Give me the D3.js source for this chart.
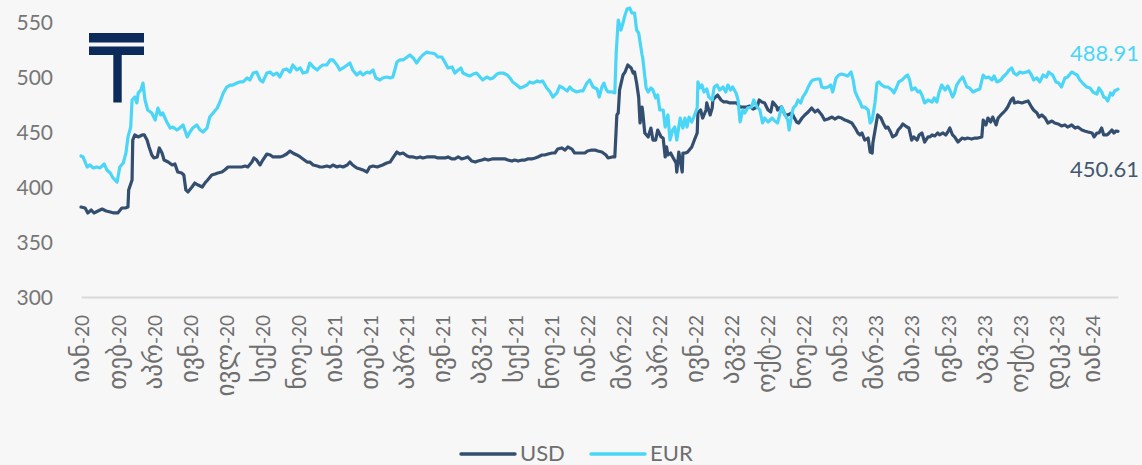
<!DOCTYPE html>
<html><head><meta charset="utf-8">
<script src="https://cdn.jsdelivr.net/npm/d3@7"></script>
<style>
html,body{margin:0;padding:0;background:#f7f7f7;}
svg{display:block;font-family:Lato,"DejaVu Sans",sans-serif;}
</style></head>
<body><svg id="chart" width="1142" height="465"></svg>
<script>
// ---------------- data ----------------
const startDate = "2020-01-01";      // day 0 of the date axis
const lastDay = 1523;                // last observation (days after start)
const tickStepDays = 53;             // date-axis major unit (days)
const tickLabels = ["იან-20","თებ-20","აპრ-20","ივნ-20","ივლ-20","სექ-20","ნოე-20",
  "იან-21","თებ-21","აპრ-21","ივნ-21","აგვ-21","სექ-21","ნოე-21",
  "იან-22","მარ-22","აპრ-22","ივნ-22","აგვ-22","ოქტ-22","ნოე-22",
  "იან-23","მარ-23","მაი-23","ივნ-23","აგვ-23","ოქტ-23","დეკ-23","იან-24"];
const yTicks = [300,350,400,450,500,550];
const seriesNames = ["USD","EUR"];
const lastValueLabels = ["450.61","488.91"];

// [day offset, value]
const usdData = [[0,381.8],[6,380.9],[10,376.4],[15,379.1],[19,376.4],[25,378.2],[31,380],[37,378.2],[43,377.3],[48,376.4],[54,376.4],[60,380.9],[65,380.9],[69,381.8],[70,397.3],[75,406.4],[76,442.7],[79,447.3],[84,445.5],[90,447.3],[93,447.3],[97,442.7],[100,436.4],[104,429.1],[107,426.4],[112,427.3],[115,435.5],[119,430.9],[122,424.5],[128,422.7],[134,420],[138,420.9],[142,413.6],[148,412.7],[151,410.9],[154,397.3],[157,395.5],[163,400],[167,403.6],[172,401.8],[178,400],[182,403.6],[186,406.4],[192,410.9],[197,411.8],[201,412.7],[207,413.6],[211,415.5],[216,418.2],[222,418.2],[226,418.2],[231,418.2],[236,418.2],[241,419.1],[245,418.2],[251,422.7],[254,426.4],
[258,424.5],[263,420],[267,424.5],[273,430],[278,429.1],[282,427.3],[288,427.3],[292,427.3],[297,428.2],[302,430],[307,432.7],[311,430.9],[317,429.1],[322,427.3],[326,425.5],[332,422.7],[336,422.7],[341,420],[347,419.1],[351,418.2],[355,418.2],[361,419.1],[366,418.2],[370,420],[376,418.2],[380,419.1],[385,418.2],[391,420],[395,422.7],[399,420],[405,417.3],[410,416.4],[414,415.5],[420,413.6],[424,418.2],[429,419.1],[435,418.2],[439,419.1],[443,420],[449,421.8],[454,422.7],[458,426.4],[464,431.8],[468,430],[473,430.9],[479,428.2],[483,427.3],[488,427.3],[493,426.4],[498,427.3],[502,426.4],[508,427.3],[512,427.3],
[515,427.3],[520,427.3],[524,426.4],[530,426.4],[535,426.4],[539,427.3],[545,425.5],[549,425.5],[554,427.3],[559,425.5],[564,426.4],[568,427.3],[574,423.6],[579,422.7],[583,423.6],[589,424.5],[593,425.5],[598,424.5],[604,425.5],[608,425.5],[612,425.5],[618,425.5],[623,425.5],[627,424.5],[633,423.6],[637,424.5],[642,423.6],[648,424.5],[652,424.5],[656,425.5],[662,425.5],[667,426.4],[671,427.3],[677,429.1],[681,429.1],[686,430],[692,430.9],[696,430.9],[700,434.5],[706,435.5],[711,433.6],[715,436.4],[721,434.5],[725,430.9],[730,430.9],[736,430.9],[740,430.9],[744,432.7],[750,433.6],[755,433.6],[759,432.7],[765,431.8],
[771,429.1],[774,426.4],[780,427.3],[784,427.3],[787,465.5],[789,467.3],[791,488.2],[796,501.8],[799,504.5],[803,510.9],[808,508.2],[811,503.6],[813,504.5],[816,494.5],[819,481.8],[821,458.2],[824,472.7],[825,468.2],[828,449.1],[833,445.5],[837,453.6],[840,442.7],[844,442.7],[847,451.8],[852,445.5],[855,444.5],[858,427.3],[860,436.4],[862,429.1],[866,430.9],[869,427.3],[874,421.8],[875,413.6],[878,431.8],[883,413.6],[884,430.9],[888,430.9],[891,431.8],[897,436.4],[902,444.5],[905,449.1],[906,467.3],[910,470],[913,462.7],[918,470],[919,476.4],[924,465.5],[927,471.8],[928,479.1],[932,481.8],[935,483.6],[940,479.1],[944,477.3],[949,477.3],[953,476.4],[957,476.4],[963,476.4],[968,472.7],[972,472.7],[978,472.7],[982,473.6],[987,470.9],[993,472.7],[996,479.1],[1000,477.3],[1004,476.4],[1009,470],[1013,468.2],[1016,477.3],[1022,472.7],
[1023,470],[1026,471.8],[1029,472.7],[1034,465.5],[1038,465.5],[1044,467.3],[1047,463.6],[1051,459.1],[1054,458.2],[1059,462.7],[1063,465.5],[1068,468.2],[1073,471.8],[1078,468.2],[1082,470],[1088,465.5],[1092,460.9],[1097,461.8],[1103,463.6],[1107,461.8],[1112,463.6],[1117,462.7],[1122,460.9],[1126,460],[1132,458.2],[1137,453.6],[1141,449.1],[1144,447.3],[1147,449.1],[1151,442.7],[1156,444.5],[1159,431.8],[1162,430.9],[1163,440],[1167,454.5],[1170,465.5],[1175,462.7],[1178,458.2],[1182,453.6],[1185,454.5],[1189,450],[1192,445.5],[1197,447.3],[1200,451.8],[1204,454.5],[1207,457.3],[1213,454.5],[1216,453.6],[1220,442.7],[1223,445.5],[1228,442.7],[1231,447.3],[1235,449.1],[1239,440.9],[1244,445.5],[1247,445.5],[1250,447.3],[1254,446.4],[1258,449.1],[1261,447.3],[1266,449.1],[1270,447.3],[1273,450],
[1276,453.6],[1280,447.3],[1283,445.5],[1288,440.9],[1294,444.5],[1298,443.6],[1302,444.5],[1308,443.6],[1313,444.5],[1317,444.5],[1323,445.5],[1325,460.9],[1329,456.4],[1332,462.7],[1336,459.1],[1339,463.6],[1344,456.4],[1347,462.7],[1351,465.5],[1354,467.3],[1358,470],[1361,472.7],[1366,479.1],[1369,480.9],[1371,476.4],[1376,477.3],[1382,476.4],[1386,477.3],[1391,478.2],[1396,472.7],[1399,470],[1404,467.3],[1407,463.6],[1411,465.5],[1416,462.7],[1420,458.2],[1426,460],[1430,458.2],[1435,457.3],[1440,455.5],[1445,456.4],[1449,454.5],[1455,456.4],[1460,453.6],[1464,454.5],[1470,451.8],[1474,450.9],[1479,450],[1485,449.1],[1488,445.5],[1492,449.1],[1495,449.1],[1499,453.6],[1502,447.3],[1507,447.3],[1510,449.1],[1514,451.8],[1517,449.1],[1520,450.9],[1523,450.61]];

const eurData = [[0,428.2],[3,427.3],[9,418.2],[13,420],[18,417.3],[23,418.2],[28,417.3],[34,420.9],[38,415.5],[43,412.7],[47,408.2],[53,404.5],[57,418.2],[62,421.8],[66,430.9],[69,445.5],[73,454.5],[75,479.1],[79,481.8],[82,476.4],[84,485.5],[88,488.2],[91,494.5],[94,479.1],[98,470],[104,467.3],[109,460.9],[113,471.8],[117,465.5],[120,467.3],[126,459.1],[131,453.6],[135,454.5],[141,451.8],[145,453.6],[150,456.4],[156,445.5],[160,450],[164,453.6],[170,456.4],[175,451.8],[179,450],[185,453.6],[189,463.6],[194,467.3],[200,471.8],[204,477.3],[209,485.5],[214,490.9],[219,492.7],[223,492.7],[229,494.5],[233,495.5],[238,495.5],[244,499.1],[248,497.3],[253,503.6],
[258,504.5],[263,497.3],[267,495.5],[273,503.6],[278,504.5],[282,501.8],[288,503.6],[292,500],[297,506.4],[302,507.3],[307,504.5],[311,510.9],[317,506.4],[322,508.2],[326,503.6],[332,504.5],[336,512.7],[341,509.1],[347,506.4],[351,509.1],[355,510.9],[361,510.9],[366,515.5],[370,515.5],[376,510.9],[380,506.4],[385,508.2],[391,510.9],[395,512.7],[399,506.4],[405,501.8],[410,504.5],[414,501.8],[420,504.5],[424,503.6],[429,506.4],[433,499.1],[439,497.3],[443,499.1],[449,500],[454,499.1],[458,500],[464,513.6],[468,515.5],[473,515.5],[479,518.2],[483,520],[488,517.3],[493,512.7],[498,517.3],[502,520],[508,522.7],[512,521.8],
[515,521.8],[520,520.9],[524,518.2],[530,518.2],[535,512.7],[539,508.2],[545,509.1],[549,503.6],[554,506.4],[558,508.2],[561,503.6],[567,501.8],[571,500.9],[576,502.7],[581,503.6],[586,500],[590,497.3],[596,500],[601,498.2],[605,499.1],[611,502.7],[615,503.6],[620,503.6],[626,501.8],[630,499.1],[634,495.5],[640,492.7],[645,490],[649,490.9],[655,492.7],[659,495.5],[664,494.5],[670,496.4],[674,495.5],[678,496.4],[684,490],[689,486.4],[693,481.8],[699,485.5],[703,491.8],[708,490],[714,487.3],[718,490.9],[722,488.2],[728,486.4],[733,487.3],[737,487.3],[743,494.5],[747,497.3],[752,490.9],[758,489.1],[761,481.8],[765,490.9],[768,494.5],
[771,489.1],[774,486.4],[780,486.4],[784,485.5],[786,521.8],[789,551.8],[793,542.7],[796,549.1],[799,556.4],[802,561.8],[806,562.7],[809,558.2],[813,558.2],[816,542.7],[819,540],[824,520],[825,517.3],[830,490],[833,486.4],[837,490],[840,488.2],[844,480.9],[847,483.6],[850,470],[855,470],[858,454.5],[862,465.5],[865,442.7],[869,451.8],[872,454.5],[875,442.7],[880,462.7],[884,453.6],[887,462.7],[890,454.5],[893,463.6],[897,459.1],[900,463.6],[905,471.8],[906,495.5],[909,490],[912,492.7],[915,486.4],[919,489.1],[922,481.8],[927,479.1],[930,490.9],[934,492.7],[938,488.2],[943,490.9],[947,486.4],[950,492.7],[954,488.2],[957,490.9],[962,485.5],[965,479.1],[968,459.1],[972,470],[975,467.3],[979,471.8],[985,472.7],[988,479.1],[993,472.7],[997,470],[1001,458.2],[1004,462.7],[1009,459.1],[1015,462.7],[1019,460],
[1023,458.2],[1026,465.5],[1029,472.7],[1034,465.5],[1038,460.9],[1040,451.8],[1043,462.7],[1046,471.8],[1050,474.5],[1053,479.1],[1057,476.4],[1060,481.8],[1065,486.4],[1068,490.9],[1072,495.5],[1075,497.3],[1081,498.2],[1085,498.2],[1088,490.9],[1092,490],[1097,490.9],[1101,492.7],[1104,486.4],[1109,499.1],[1113,501.8],[1117,502.7],[1122,501.8],[1126,500.9],[1131,504.5],[1134,497.3],[1137,486.4],[1141,480.9],[1144,477.3],[1147,472.7],[1151,472.7],[1156,470],[1159,458.2],[1162,460.9],[1166,476.4],[1169,494.5],[1172,495.5],[1176,492.7],[1181,490.9],[1185,490.9],[1191,488.2],[1194,485.5],[1198,490.9],[1201,495.5],[1206,497.3],[1210,500],[1214,501.8],[1217,497.3],[1220,488.2],[1225,490],[1229,486.4],[1232,487.3],[1235,483.6],[1239,476.4],[1244,479.1],[1250,477.3],[1253,480.9],[1257,477.3],[1260,485.5],[1264,492.7],[1269,488.2],[1273,491.8],
[1276,488.2],[1280,481.8],[1283,485.5],[1286,492.7],[1291,497.3],[1295,500],[1298,495.5],[1301,490.9],[1305,490],[1310,486.4],[1316,488.2],[1320,489.1],[1325,501.8],[1329,499.1],[1333,500],[1338,497.3],[1341,500.9],[1345,495.5],[1351,497.3],[1354,500],[1360,503.6],[1363,506.4],[1367,508.2],[1370,503.6],[1374,501.8],[1379,504.5],[1383,503.6],[1389,504.5],[1392,505.5],[1396,501.8],[1399,497.3],[1404,499.1],[1408,495.5],[1413,501.8],[1418,500],[1421,504.5],[1427,501.8],[1432,495.5],[1436,494.5],[1440,490.9],[1445,499.1],[1449,500],[1455,504.5],[1458,503.6],[1463,501.8],[1467,497.3],[1471,494.5],[1477,490.9],[1482,490],[1486,486.4],[1492,484.5],[1495,490],[1499,486.4],[1502,481.8],[1505,480.9],[1508,478.2],[1512,485.5],[1515,483.6],[1518,487.3],[1523,488.91]];

// ---------------- chart ----------------
const colors = {USD:"#344e6f", EUR:"#4bd6f7"};
const DAY = 864e5;
const t0 = new Date(startDate + "T00:00:00Z").getTime();
const dateOf = d => new Date(t0 + d * DAY);

const svg = d3.select("#chart");
const x = d3.scaleUtc().domain([dateOf(0), dateOf(lastDay)]).range([81, 1118]);
const y = d3.scaleLinear().domain([300, 550]).range([297, 22]);

// logo
const logo = svg.append("g").attr("fill", "#0c2b5c");
logo.append("rect").attr("x", 89).attr("y", 33).attr("width", 55).attr("height", 9.5);
logo.append("rect").attr("x", 89).attr("y", 46.5).attr("width", 55).attr("height", 8.5);
logo.append("rect").attr("x", 113.3).attr("y", 55).attr("width", 8.4).attr("height", 47.5);

// x axis
const tickDates = tickLabels.map((_, i) => dateOf(i * tickStepDays));
const xAxis = svg.append("g").attr("transform", `translate(0,${y(300)})`)
  .call(d3.axisBottom(x).tickValues(tickDates).tickFormat((d, i) => tickLabels[i])
    .tickSize(0).tickSizeOuter(0));
xAxis.select(".domain").attr("stroke", "#d9d9d9").attr("stroke-width", 2);
xAxis.selectAll("text")
  .attr("transform", "rotate(-90)")
  .attr("text-anchor", "end")
  .attr("x", -18).attr("y", 0).attr("dy", "0.42em")
  .attr("fill", "#6e6e6e")
  .style("font-size", "19px")
  .each(function() {
    const t = d3.select(this);
    const label = t.text();
    const cut = label.indexOf("-");
    t.text(null);
    t.append("tspan").style("font-family", '"DejaVu Sans",sans-serif')
      .style("font-size", "25px").text(label.slice(0, cut));
    t.append("tspan").style("font-family", "Lato,sans-serif")
      .style("font-size", "19px").text(label.slice(cut));
  });

// y axis
const yAxis = svg.append("g").attr("transform", "translate(81,0)")
  .call(d3.axisLeft(y).tickValues(yTicks).tickSize(0).tickPadding(28));
yAxis.select(".domain").remove();
yAxis.selectAll("text").attr("fill", "#767676").style("font-size", "21px")
  .style("font-family", "Lato,sans-serif").attr("dy", "0.35em");

// lines
const line = d3.line().x(d => x(dateOf(d[0]))).y(d => y(d[1]));
const seriesData = {USD: usdData, EUR: eurData};
seriesNames.forEach(name => {
  svg.append("path").datum(seriesData[name])
    .attr("fill", "none").attr("stroke", colors[name]).attr("stroke-width", 3.2)
    .attr("stroke-linejoin", "round").attr("stroke-linecap", "round")
    .attr("d", line);
});

// end value labels
const usdLast = usdData[usdData.length - 1], eurLast = eurData[eurData.length - 1];
svg.append("text").attr("x", x(dateOf(usdLast[0])) + 21).attr("y", y(usdLast[1]) + 46)
  .attr("text-anchor", "end").attr("fill", "#44576f").style("font-size", "22px")
  .style("font-family", "Lato,sans-serif").text(lastValueLabels[0]);
svg.append("text").attr("x", x(dateOf(eurLast[0])) + 21).attr("y", y(eurLast[1]) - 28)
  .attr("text-anchor", "end").attr("fill", "#4bd6f7").style("font-size", "22px")
  .style("font-family", "Lato,sans-serif").text(lastValueLabels[1]);

// legend
const legendX = [461, 591];
seriesNames.forEach((name, i) => {
  const g = svg.append("g").attr("transform", `translate(${legendX[i]},454)`);
  g.append("line").attr("x1", 0).attr("x2", 54).attr("y1", 0).attr("y2", 0)
    .attr("stroke", colors[name]).attr("stroke-width", 3.4).attr("stroke-linecap", "round");
  g.append("text").attr("x", 59).attr("y", 7).attr("fill", "#6e6e6e")
    .style("font-size", "22px").style("font-family", "Lato,sans-serif").text(name);
});
</script>
</body></html>
